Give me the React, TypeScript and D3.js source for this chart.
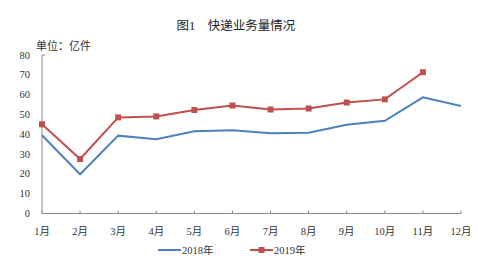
import React from "react";
import * as d3 from "d3";

const months = ["1月","2月","3月","4月","5月","6月","7月","8月","9月","10月","11月","12月"];
const s2018 = [39.5, 19.8, 39.3, 37.5, 41.5, 42, 40.5, 40.8, 44.8, 46.8, 58.6, 54.3];
const s2019 = [45, 27.5, 48.5, 49, 52.2, 54.5, 52.5, 53, 56, 57.6, 71.3];
const yTicks = [0, 10, 20, 30, 40, 50, 60, 70, 80];

const W = 478, H = 272;
const blue = "#4F81BD", red = "#C0504D";
const font = "'Liberation Serif', 'Noto Sans CJK SC', serif";

export default function App() {
  const x = d3.scalePoint<string>().domain(months).range([42, 461]);
  const y = d3.scaleLinear().domain([0, 80]).range([213.5, 55]);
  const line = d3.line<number>().x((_, i) => x(months[i])!).y(d => y(d));
  return (
    <svg width={W} height={H} style={{ position: "absolute", left: 0, top: 0, background: "#fff" }}>
      <text x={236} y={30} textAnchor="middle" fontSize={12.5} fontFamily={font} fill="#222">图1　快递业务量情况</text>
      <text x={36} y={50} fontSize={11} fontFamily={font} fill="#333">单位：亿件</text>
      <line x1={42} x2={42} y1={y(80)} y2={y(0)} stroke="#8a8a8a" strokeWidth={1} />
      <line x1={42} x2={461} y1={y(0)} y2={y(0)} stroke="#8a8a8a" strokeWidth={1} />
      <line x1={42} x2={45} y1={y(80)} y2={y(80)} stroke="#8a8a8a" strokeWidth={1} />
      {yTicks.map(t => (
        <text key={t} x={30} y={y(t) + 3.5} textAnchor="end" fontSize={10.5} fontFamily={font} fill="#333">{t}</text>
      ))}
      {months.map(m => (
        <g key={m}>
          <line x1={x(m)} x2={x(m)} y1={y(0)} y2={y(0) - 3} stroke="#8a8a8a" />
          <text x={x(m)} y={235} textAnchor="middle" fontSize={10.5} fontFamily={font} fill="#333">{m}</text>
        </g>
      ))}
      <path d={line(s2018)!} fill="none" stroke={blue} strokeWidth={2} />
      <path d={line(s2019)!} fill="none" stroke={red} strokeWidth={2} />
      {s2019.map((v, i) => (
        <rect key={i} x={x(months[i])! - 3} y={y(v) - 3} width={6} height={6} fill={red} />
      ))}
      <line x1={158} x2={181} y1={250} y2={250} stroke={blue} strokeWidth={2} />
      <text x={182} y={254} fontSize={10.5} fontFamily={font} fill="#333">2018年</text>
      <line x1={250} x2={273} y1={250} y2={250} stroke={red} strokeWidth={2} />
      <rect x={258.5} y={247} width={6} height={6} fill={red} />
      <text x={274} y={254} fontSize={10.5} fontFamily={font} fill="#333">2019年</text>
    </svg>
  );
}
